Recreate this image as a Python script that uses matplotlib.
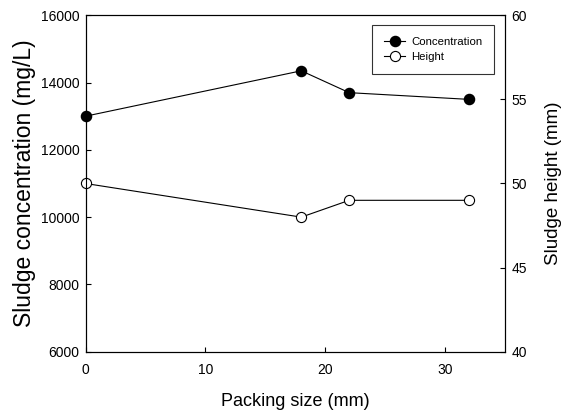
import matplotlib
matplotlib.use('Agg')
import matplotlib.pyplot as plt

# Datos
packing_size = [0, 18, 22, 32]
concentration = [13000, 14350, 13700, 13500]
height = [50, 48, 49, 49]

plt.rcParams.update({
    'font.family': ['Liberation Sans', 'DejaVu Sans'],
    'font.size': 10,
    'axes.linewidth': 0.8,
})

fig = plt.figure(figsize=(5.69, 4.11), dpi=100)
ax = fig.add_axes([0.1503, 0.1443, 0.7373, 0.8185])
ax2 = ax.twinx()

l1, = ax.plot(packing_size, concentration, '-o', color='black', lw=0.8,
              markersize=7.3, markerfacecolor='black', markeredgecolor='black',
              clip_on=False, label='Concentration')
l2, = ax2.plot(packing_size, height, '-o', color='black', lw=0.8,
               markersize=7.3, markerfacecolor='white', markeredgecolor='black',
               markeredgewidth=0.8, clip_on=False, label='Height')

ax.set_xlim(0, 35)
ax.set_ylim(6000, 16000)
ax2.set_ylim(40, 60)
ax.set_xticks([0, 10, 20, 30])
ax.set_yticks(range(6000, 16001, 2000))
ax2.set_yticks(range(40, 61, 5))

ax.tick_params(axis='x', direction='in', length=3.5, width=0.8, pad=8, labelsize=10)
ax.tick_params(axis='y', direction='in', length=3.5, width=0.8, pad=4.5, labelsize=10)
ax2.tick_params(axis='y', direction='in', length=3.5, width=0.8, pad=4.5, labelsize=10)

ax.set_xlabel('Packing size (mm)', fontsize=13, labelpad=12)
ax.set_ylabel('Sludge concentration (mg/L)', fontsize=16.5, labelpad=3)
ax2.set_ylabel('Sludge height (mm)', fontsize=13.5, labelpad=13, rotation=90)

# Leyenda en la esquina superior derecha
leg = ax2.legend(handles=[l1, l2], loc='upper right', bbox_to_anchor=(0.974, 0.971),
                 borderaxespad=0, fontsize=8.2, frameon=True, fancybox=False,
                 edgecolor='black', handlelength=1.9, handletextpad=0.5,
                 borderpad=1.05, labelspacing=0.45)
leg.get_frame().set_linewidth(0.8)

plt.savefig('out.png', dpi=100)
